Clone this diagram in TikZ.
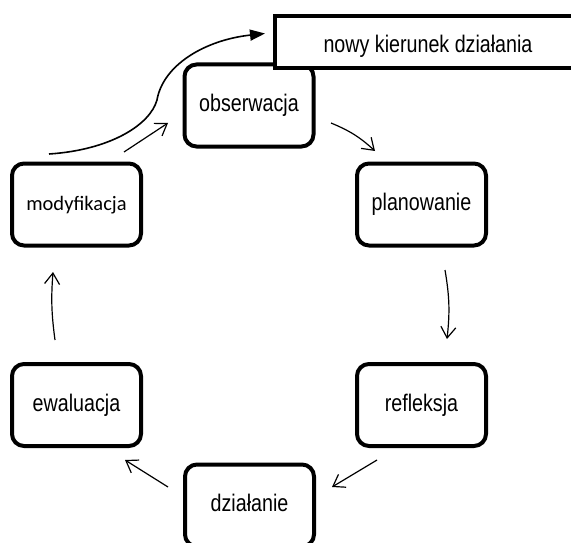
\documentclass[tikz,border=0pt]{standalone}
\usepackage{fontspec}
\setmainfont{Liberation Sans}[FakeStretch=0.82]
\newfontfamily\modfont{Carlito}
\usetikzlibrary{arrows.meta}

\begin{document}
\begin{tikzpicture}[x=1pt,y=-1pt,
  stepbox/.style={shape=rectangle,draw,line width=4pt,rounded corners=12pt,fill=white,minimum width=129pt,minimum height=82pt,inner sep=0pt,text height=17pt,text depth=5pt,font=\fontsize{24}{28}\selectfont},
  cyclearrow/.style={-{Straight Barb[length=11pt,width=15pt]},line width=1.2pt}]
\clip (0,0) rectangle (571,543);
\node[stepbox] (obs) at (249,105.5) {obserwacja};
\node[stepbox] (plan) at (421.5,204.5) {planowanie};
\node[stepbox] (refl) at (421.5,405) {refleksja};
\node[stepbox] (dzial) at (249.5,505.5) {działanie};
\node[stepbox] (ewal) at (76.5,405) {ewaluacja};
\node[stepbox,font=\modfont\fontsize{20.5}{24}\selectfont] (mod) at (76.5,204.5) {modyfikacja};
\node[shape=rectangle,draw,line width=4pt,fill=white,minimum width=306pt,minimum height=52pt,inner sep=0pt,text height=21pt,text depth=0pt,font=\fontsize{24}{28}\selectfont] (nowy) at (428,42.5) {nowy kierunek działania};
\draw[cyclearrow] ([shift={(15.5,17.5)}]obs.east) to[bend left=10] ([shift={(20,-10.5)}]plan.north west);
\draw[cyclearrow] ([shift={(23.5,22.5)}]plan.south) to[bend left=8] ([shift={(25.5,-23)}]refl.north);
\draw[cyclearrow] ([shift={(22,12)}]refl.south west) to ([shift={(16,-18.5)}]dzial.east);
\draw[cyclearrow] ([shift={(-15,-18.5)}]dzial.west) to ([shift={(-18,12)}]ewal.south east);
\draw[cyclearrow] ([shift={(-21.5,-22)}]ewal.north) to[bend left=6] ([shift={(-23.5,24.5)}]mod.south);
\draw[cyclearrow] ([shift={(-19,-9.5)}]mod.north east) to ([shift={(-14.5,-25.5)}]obs.south west);
% wyjscie z cyklu
\draw[line width=1.6pt,-{Triangle[length=15pt,width=11pt]}] ([shift={(-27.5,-7.5)}]mod.north) .. controls (110,150) and (150,125) .. (157,100) .. controls (163,65) and (205,40) .. ([shift={(-8,-9)}]nowy.west);
\end{tikzpicture}
\end{document}
